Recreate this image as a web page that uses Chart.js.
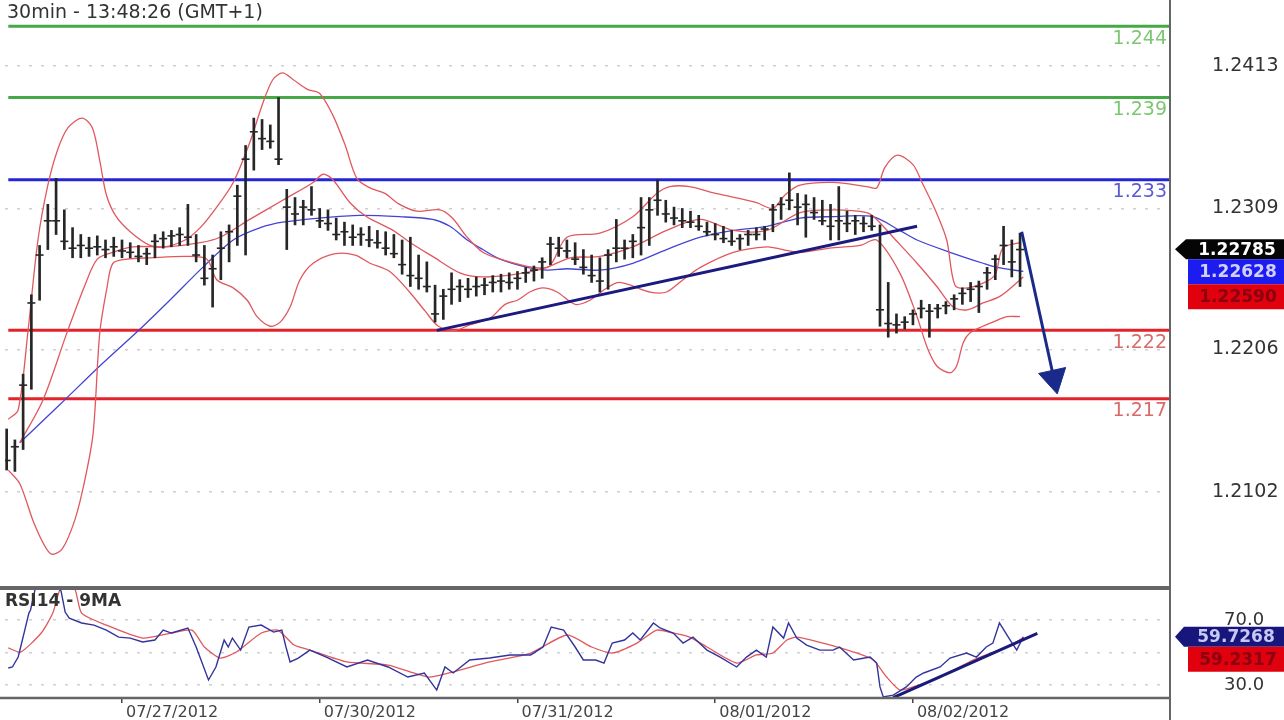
<!DOCTYPE html>
<html><head><meta charset="utf-8">
<script src="https://cdn.jsdelivr.net/npm/chart.js@4.4.1/dist/chart.umd.min.js"></script>
<style>
html,body{margin:0;padding:0;background:#fff;width:1284px;height:720px;overflow:hidden;}
#wrap{position:relative;width:1284px;height:720px;background:#fff;}
canvas{position:absolute;left:0;}
#main{top:0}
#rsi{top:588px}
.lbl{position:absolute;font-family:"DejaVu Sans",sans-serif;color:#333;white-space:nowrap;}
</style></head><body>
<div id="wrap">
<canvas id="main" width="1284" height="588"></canvas>
<canvas id="rsi" width="1284" height="132"></canvas>
<div class="lbl" style="left:7px;top:0px;font-size:19px;line-height:22px;">30min - 13:48:26 (GMT+1)</div>
<div class="lbl" style="left:5px;top:590px;font-size:17px;line-height:20px;font-weight:bold;">RSI14 - 9MA</div>
</div>
<script>
// ---------- data (hour index along x) ----------
const priceHigh = [1.2148,1.2140,1.2188,1.2246,1.2282,1.2312,1.2331,1.2308,1.2295,1.2290,
1.2288,1.2289,1.2286,1.2288,1.2286,1.2284,1.2282,1.2280,1.2290,1.2292,
1.2293,1.2295,1.2312,1.2290,1.2282,1.2275,1.2292,1.2297,1.2326,1.2355,
1.2375,1.2374,1.2370,1.2390,1.2323,1.2317,1.2315,1.2325,1.2309,1.2308,
1.2302,1.2299,1.2297,1.2295,1.2296,1.2293,1.2292,1.2290,1.2286,1.2288,
1.2275,1.2270,1.2253,1.2250,1.2262,1.2257,1.2258,1.2259,1.2258,1.2260,
1.2261,1.2262,1.2263,1.2266,1.2267,1.2273,1.2288,1.2288,1.2286,1.2284,
1.2279,1.2275,1.2273,1.2279,1.2301,1.2286,1.2290,1.2317,1.2317,1.2330,
1.2315,1.2310,1.2309,1.2307,1.2304,1.2299,1.2298,1.2296,1.2293,1.2290,
1.2293,1.2295,1.2296,1.2312,1.2317,1.2335,1.2320,1.2319,1.2317,1.2315,
1.2312,1.2325,1.2307,1.2304,1.2303,1.2304,1.2297,1.2255,1.2232,1.2230,
1.2235,1.2242,1.2239,1.2239,1.2241,1.2246,1.2251,1.2255,1.2256,1.2266,
1.2275,1.2296,1.2286,1.2291];
const priceLow = [1.2118,1.2117,1.2133,1.2177,1.2242,1.2279,1.2290,1.2279,1.2273,1.2273,
1.2274,1.2275,1.2273,1.2274,1.2273,1.2273,1.2270,1.2268,1.2273,1.2280,
1.2281,1.2282,1.2282,1.2270,1.2253,1.2237,1.2257,1.2270,1.2282,1.2275,
1.2337,1.2352,1.2353,1.2341,1.2279,1.2297,1.2297,1.2304,1.2295,1.2293,
1.2286,1.2282,1.2282,1.2282,1.2281,1.2280,1.2275,1.2273,1.2261,1.2252,
1.2250,1.2248,1.2226,1.2228,1.2239,1.2241,1.2244,1.2245,1.2246,1.2248,
1.2248,1.2250,1.2250,1.2255,1.2256,1.2258,1.2268,1.2274,1.2273,1.2268,
1.2261,1.2255,1.2248,1.2250,1.2270,1.2272,1.2273,1.2275,1.2282,1.2304,
1.2299,1.2297,1.2295,1.2295,1.2293,1.2289,1.2286,1.2284,1.2282,1.2279,
1.2282,1.2286,1.2286,1.2292,1.2301,1.2308,1.2297,1.2288,1.2301,1.2297,
1.2286,1.2286,1.2292,1.2290,1.2292,1.2293,1.2223,1.2215,1.2218,1.2221,
1.2224,1.2229,1.2215,1.2229,1.2232,1.2235,1.2239,1.2241,1.2233,1.2250,
1.2257,1.2268,1.2259,1.2252];
const priceClose = [1.2125,1.2135,1.2180,1.2240,1.2275,1.2300,1.2300,1.2285,1.2280,1.2282,
1.2280,1.2281,1.2279,1.2281,1.2278,1.2277,1.2274,1.2276,1.2285,1.2287,
1.2289,1.2290,1.2288,1.2275,1.2258,1.2265,1.2280,1.2292,1.2318,1.2345,
1.2365,1.2360,1.2358,1.2345,1.2310,1.2305,1.2310,1.2308,1.2300,1.2298,
1.2290,1.2292,1.2288,1.2290,1.2286,1.2284,1.2280,1.2276,1.2268,1.2260,
1.2258,1.2252,1.2232,1.2245,1.2250,1.2252,1.2250,1.2252,1.2253,1.2255,
1.2256,1.2255,1.2258,1.2262,1.2264,1.2270,1.2283,1.2280,1.2278,1.2272,
1.2266,1.2260,1.2256,1.2275,1.2280,1.2280,1.2285,1.2295,1.2308,1.2315,
1.2305,1.2302,1.2300,1.2299,1.2296,1.2292,1.2290,1.2287,1.2285,1.2287,
1.2290,1.2290,1.2294,1.2308,1.2312,1.2315,1.2310,1.2312,1.2306,1.2300,
1.2296,1.2300,1.2298,1.2300,1.2298,1.2296,1.2235,1.2225,1.2224,1.2226,
1.2232,1.2236,1.2234,1.2236,1.2238,1.2243,1.2247,1.2250,1.2252,1.2262,
1.2272,1.2282,1.2270,1.2279];

const upperBand = [[0.2,1.2155],[1.4,1.2162],[2.6,1.2220],[3.8,1.2286],[5.0,1.2326],[6.2,1.2352],[7.45,1.2368],[9.15,1.2375],[10.4,1.2368],[11.3,1.2344],[12.1,1.2319],[13.2,1.2304],[15.0,1.2292],[17.4,1.2282],[19.2,1.2281],[21.65,1.2286],[23.5,1.2295],[25.5,1.2310],[27.5,1.2328],[29.5,1.2357],[31.1,1.2386],[32.3,1.2403],[33.5,1.2408],[34.8,1.2403],[36.5,1.2396],[38.0,1.2393],[39.6,1.2377],[41.1,1.2355],[42.5,1.2331],[44.1,1.2324],[45.9,1.2320],[47.7,1.2312],[49.8,1.2307],[52.6,1.2308],[54.1,1.2302],[55.9,1.2288],[57.8,1.2277],[59.9,1.2272],[63.9,1.2266],[65.9,1.2267],[68.0,1.2288],[72.0,1.2291],[76.0,1.2303],[78.9,1.2320],[80.5,1.2325],[82.9,1.2325],[85.4,1.2321],[88.4,1.2317],[91.1,1.2313],[93.0,1.2309],[94.5,1.2319],[96.3,1.2326],[100.3,1.2328],[104.4,1.2325],[105.6,1.2324],[106.6,1.2339],[108.1,1.2348],[110.0,1.2341],[111.1,1.2328],[112.7,1.2308],[114.1,1.2286],[115.1,1.2253],[116.6,1.2251],[118.7,1.2255],[120.0,1.2261],[120.9,1.2280],[123.0,1.2284]];
const middleBand = [[1.6,1.2138],[4.4,1.2169],[7.3,1.2218],[9.5,1.2253],[11.0,1.2272],[12.9,1.2277],[15.3,1.2281],[19.5,1.2281],[23.5,1.2284],[25.9,1.2288],[29.5,1.2301],[33.5,1.2315],[37.2,1.2328],[38.4,1.2334],[39.6,1.2330],[41.7,1.2313],[43.7,1.2303],[46.9,1.2293],[49.0,1.2284],[51.7,1.2274],[55.0,1.2262],[57.8,1.2259],[61.9,1.2261],[65.6,1.2266],[68.4,1.2273],[72.0,1.2274],[76.0,1.2281],[80.1,1.2293],[84.2,1.2301],[88.2,1.2293],[92.3,1.2293],[96.3,1.2306],[100.3,1.2308],[104.4,1.2306],[105.6,1.2301],[107.6,1.2288],[110.5,1.2269],[112.9,1.2252],[114.9,1.2237],[116.6,1.2235],[118.5,1.2240],[120.6,1.2245],[123.4,1.2259]];
const lowerBand = [[0.2,1.2118],[1.6,1.2108],[3.4,1.2078],[5.3,1.2057],[6.7,1.2060],[8.3,1.2082],[9.5,1.2111],[10.5,1.2145],[11.3,1.2218],[12.2,1.2252],[12.9,1.2269],[14.6,1.2272],[17.4,1.2273],[21.9,1.2274],[24.3,1.2272],[25.5,1.2257],[27.5,1.2251],[29.2,1.2242],[30.4,1.2230],[32.0,1.2223],[33.2,1.2226],[34.4,1.2237],[35.6,1.2257],[37.2,1.2269],[39.9,1.2276],[42.3,1.2275],[44.1,1.2269],[46.5,1.2263],[48.9,1.2248],[50.8,1.2234],[52.4,1.2223],[54.4,1.2220],[56.2,1.2224],[58.7,1.2229],[60.5,1.2239],[62.0,1.2242],[63.5,1.2248],[65.1,1.2251],[66.8,1.2248],[69.0,1.2239],[70.8,1.2242],[72.6,1.2250],[74.4,1.2255],[78.1,1.2248],[80.1,1.2248],[82.1,1.2257],[84.2,1.2266],[88.2,1.2277],[92.3,1.2281],[94.2,1.2279],[96.3,1.2277],[99.9,1.2280],[103.6,1.2282],[105.6,1.2286],[108.4,1.2262],[110.5,1.2230],[111.7,1.2208],[112.9,1.2194],[114.5,1.2189],[115.3,1.2194],[116.1,1.2211],[116.9,1.2218],[118.5,1.2223],[119.7,1.2226],[121.4,1.2230],[123.0,1.2230]];
const maLine = [[1.6,1.2138],[6.5,1.2166],[11.3,1.2194],[16.2,1.2221],[19.8,1.2242],[23.8,1.2266],[27.5,1.2286],[30.8,1.2295],[33.5,1.2299],[38.0,1.2302],[42.9,1.2304],[47.7,1.2303],[51.7,1.2301],[53.8,1.2296],[55.9,1.2286],[57.8,1.2279],[59.9,1.2272],[63.2,1.2266],[65.6,1.2264],[68.0,1.2265],[72.0,1.2264],[76.0,1.2269],[80.1,1.2279],[84.2,1.2288],[88.2,1.2293],[92.3,1.2296],[96.3,1.2302],[100.3,1.2303],[105.1,1.2303],[108.4,1.2293],[110.5,1.2286],[114.5,1.2277],[118.5,1.2269],[120.2,1.2266],[123.4,1.2263]];

const levels = [1.2442, 1.239, 1.233, 1.222, 1.217];
const levelLabels = ['1.244', '1.239', '1.233', '1.222', '1.217'];
const trendLine = [[52.2,1.2220],[110.5,1.2296]];
const arrowLine = [[123.2,1.2292],[127.1,1.2185]];
const priceTicks = [1.2102, 1.2206, 1.2309, 1.2413];
const lastValues = [1.22785, 1.22628, 1.22590];
const lastLabels = ['1.22785', '1.22628', '1.22590'];

const rsiLine = [[0.2,40.5],[0.7,41.1],[1.4,47.2],[1.7,53.4],[2.2,63.8],[2.7,74.3],[2.9,76.2],[3.5,90],[5.0,94],[6.6,88],[7.1,74.9],[7.6,71.2],[9.1,68.2],[10.6,66.9],[12.1,63.8],[13.6,59.5],[15.0,58.9],[16.5,56.5],[18.0,57.7],[19.0,63.8],[20.0,62.0],[22.0,65.1],[23.0,53.4],[24.5,33.1],[25.4,41.1],[26.4,57.7],[26.9,53.4],[27.4,58.9],[28.4,51.5],[29.4,65.7],[30.9,66.9],[32.4,62.6],[33.4,63.8],[33.9,53.4],[34.4,44.2],[35.4,46.6],[36.8,51.5],[38.8,47.2],[41.3,41.1],[43.8,45.4],[46.3,41.1],[48.7,34.9],[50.7,37.4],[52.2,26.9],[53.2,41.1],[54.2,37.4],[56.2,45.4],[58.6,46.6],[61.1,48.5],[63.6,48.5],[65.1,53.4],[66.1,65.7],[67.6,63.8],[69.0,53.4],[70.0,45.4],[71.5,45.4],[72.5,43.5],[73.5,55.8],[75.0,57.7],[76.0,62.0],[76.9,57.7],[78.5,68.2],[79.3,65.1],[80.9,62.0],[82.1,55.8],[83.3,59.5],[85.0,51.5],[86.6,47.2],[88.6,41.1],[89.8,47.2],[91.0,51.5],[92.2,47.2],[93.0,65.7],[94.3,58.9],[94.9,68.2],[95.9,58.9],[97.1,54.6],[98.7,51.5],[100.3,51.5],[101.1,53.4],[102.8,45.4],[104.8,47.2],[105.6,43.5],[106.0,28.8],[106.4,22.6],[107.6,23.8],[109.2,28.8],[110.4,34.9],[111.3,37.4],[113.3,41.1],[114.5,46.6],[116.5,49.7],[117.7,47.2],[118.9,53.4],[119.7,55.8],[120.5,68.2],[121.8,57.7],[122.6,51.5],[123.4,59.7]];
const rsiMA = [[0.2,52.8],[1.7,50.3],[4.2,62.0],[5.6,74.3],[6.6,90],[8.2,90],[9.1,74.3],[12.1,66.9],[16.5,58.9],[20.0,62.0],[22.5,63.8],[24.0,53.4],[25.9,46.6],[27.9,50.3],[30.9,62.0],[32.9,63.8],[34.9,54.6],[36.8,51.5],[41.3,44.2],[46.3,42.3],[51.2,34.9],[53.7,37.4],[58.6,44.2],[63.6,49.7],[68.0,60.8],[71.0,53.4],[73.5,49.7],[76.5,55.8],[78.9,63.8],[80.9,62.0],[82.9,59.5],[85.0,53.4],[88.6,43.5],[91.0,48.5],[93.0,49.7],[94.7,57.7],[95.9,59.5],[99.1,55.8],[102.8,50.3],[105.2,45.4],[106.8,34.9],[108.4,26.9],[110.0,28.8],[113.3,34.9],[117.3,45.4],[121.4,53.4],[123.4,59.2]];
const rsiTrend = [[107.6,22.2],[125.1,61.8]];
const rsiTicks = [30, 50, 70];
const rsiLast = [59.7268, 59.2317];
const rsiLastLabels = ['59.7268', '59.2317'];
const dateTicks = [14, 38, 62, 86, 110];
const dateLabels = ['07/27/2012', '07/30/2012', '07/31/2012', '08/01/2012', '08/02/2012'];

// ---------- styling ----------
const X_MIN = -0.2, X_MAX = 141.2;
const FONT = '"DejaVu Sans", sans-serif';
const levelColors = ['#46a846', '#46a846', '#2424d8', '#e3232c', '#e3232c'];
const levelTextColors = ['#7cc772', '#7cc772', '#5a5ad6', '#d86a6a', '#d86a6a'];
const toXY = pairs => pairs.map(p => ({x: p[0], y: p[1]}));
function lineDs(pairs, color, width, order, extra) {
  return Object.assign({type: 'line', data: toXY(pairs), borderColor: color, backgroundColor: color,
    borderWidth: width, pointRadius: 0, tension: 0.3, fill: false, order: order}, extra || {});
}
function tag(ctx, tip, left, right, cy, h, fill, text, textColor) {
  ctx.save();
  ctx.beginPath();
  if (tip !== null) { ctx.moveTo(tip, cy); ctx.lineTo(left, cy - h / 2); } else { ctx.moveTo(left, cy - h / 2); }
  ctx.lineTo(right, cy - h / 2); ctx.lineTo(right, cy + h / 2); ctx.lineTo(left, cy + h / 2);
  ctx.closePath(); ctx.fillStyle = fill; ctx.fill();
  ctx.fillStyle = textColor; ctx.font = 'bold 17px ' + FONT;
  ctx.textAlign = 'center'; ctx.textBaseline = 'middle';
  ctx.fillText(text, (left + right) / 2 + 2, cy + 1);
  ctx.restore();
}

const mainDecor = {
  id: 'mainDecor',
  afterDatasetsDraw(chart) {
    const {ctx, chartArea: ca, scales: {y}} = chart;
    ctx.save();
    ctx.font = '19px ' + FONT; ctx.textAlign = 'right'; ctx.textBaseline = 'top';
    levels.forEach((lv, k) => {
      ctx.fillStyle = levelTextColors[k];
      ctx.fillText(levelLabels[k], ca.right - 3, y.getPixelForValue(lv) + 3);
    });
    ctx.strokeStyle = '#666'; ctx.lineWidth = 2;
    ctx.beginPath(); ctx.moveTo(ca.right, 0); ctx.lineTo(ca.right, chart.height); ctx.stroke();
    ctx.beginPath(); ctx.moveTo(0, chart.height - 1); ctx.lineTo(ca.right, chart.height - 1); ctx.stroke();
    ctx.restore();
    const cy = y.getPixelForValue(lastValues[0]) - 1;
    tag(ctx, 1175, 1186, 1284, cy, 20, '#050505', lastLabels[0], '#ffffff');
    tag(ctx, null, 1188, 1284, cy + 22.5, 25, '#1c1cf0', lastLabels[1], '#d0d0ff');
    tag(ctx, null, 1188, 1284, cy + 47.5, 25, '#e0000e', lastLabels[2], '#8a0010');
  }
};

const bars = priceHigh.map((h, i) => ({x: i, y: [priceLow[i], h]}));
const closes = priceClose.map((c, i) => ({x: i, y: c}));
const mainDatasets = [
  {type: 'bar', data: bars, backgroundColor: '#262626', borderWidth: 0, barThickness: 2, order: 4},
  {type: 'line', data: closes, showLine: false, pointStyle: 'line', pointRadius: 4, pointBorderWidth: 1.6,
    pointBorderColor: '#262626', borderColor: '#262626', order: 4},
  lineDs(upperBand, '#e0585e', 1.3, 5),
  lineDs(middleBand, '#e0585e', 1.3, 5),
  lineDs(lowerBand, '#e0585e', 1.3, 5),
  lineDs(maLine, '#4444d4', 1.3, 5),
  lineDs(trendLine, '#1a1a80', 3, 1, {tension: 0}),
  lineDs(arrowLine, '#1a2a8a', 3, 0, {tension: 0, pointRadius: [0, 16], pointStyle: 'triangle',
    rotation: 167.6, pointBackgroundColor: '#1a2a8a', pointBorderColor: '#1a2a8a', pointBorderWidth: 1}),
];
levels.forEach((lv, k) => {
  mainDatasets.push(lineDs([[0.2, lv], [X_MAX, lv]], levelColors[k], 3, 10, {tension: 0}));
});

new Chart(document.getElementById('main'), {
  type: 'bar',
  data: {datasets: mainDatasets},
  plugins: [mainDecor],
  options: {
    responsive: false, animation: false, devicePixelRatio: 1,
    layout: {autoPadding: false, padding: {left: 5, top: 1, bottom: 1, right: 0}},
    plugins: {legend: {display: false}, tooltip: {enabled: false}},
    scales: {
      x: {type: 'linear', min: X_MIN, max: X_MAX, offset: false, display: false},
      y: {position: 'right', min: 1.20326, max: 1.24605,
        afterBuildTicks: s => { s.ticks = priceTicks.map(v => ({value: v})); },
        afterFit: s => { s.width = 114; },
        ticks: {callback: v => v.toFixed(4), padding: 0, color: '#333', font: {family: FONT, size: 19, lineHeight: 0.05}},
        grid: {color: '#cfcfcf', lineWidth: 1.5, drawTicks: true, tickLength: 42, tickColor: 'rgba(0,0,0,0)'},
        border: {display: false, dash: [3, 9]}}
    }
  }
});

const rsiDecor = {
  id: 'rsiDecor',
  afterDatasetsDraw(chart) {
    const {ctx, chartArea: ca, scales: {y}} = chart;
    ctx.save();
    ctx.strokeStyle = '#666'; ctx.lineWidth = 2;
    ctx.beginPath(); ctx.moveTo(ca.right, 0); ctx.lineTo(ca.right, chart.height); ctx.stroke();
    ctx.beginPath(); ctx.moveTo(0, 1); ctx.lineTo(ca.right, 1); ctx.stroke();
    ctx.lineWidth = 2.5;
    ctx.beginPath(); ctx.moveTo(0, ca.bottom); ctx.lineTo(ca.right, ca.bottom); ctx.stroke();
    ctx.restore();
    const cy = y.getPixelForValue(rsiLast[0]);
    tag(ctx, 1175, 1184, 1284, cy, 20, '#16167c', rsiLastLabels[0], '#c8c8f4');
    tag(ctx, null, 1188, 1284, cy + 22.5, 25, '#e0000e', rsiLastLabels[1], '#8a0010');
  }
};

new Chart(document.getElementById('rsi'), {
  type: 'line',
  data: {datasets: [
    lineDs(rsiMA, '#e0585e', 1.3, 3, {tension: 0.2}),
    lineDs(rsiLine, '#33339e', 1.4, 2, {tension: 0}),
    lineDs(rsiTrend, '#1a1a7a', 3, 1, {tension: 0})
  ]},
  plugins: [rsiDecor],
  options: {
    responsive: false, animation: false, devicePixelRatio: 1,
    layout: {autoPadding: false, padding: {left: 5, top: 2, bottom: 0, right: 0}},
    plugins: {legend: {display: false}, tooltip: {enabled: false}},
    scales: {
      x: {type: 'linear', min: X_MIN, max: X_MAX, offset: false,
        afterBuildTicks: s => { s.ticks = dateTicks.map(v => ({value: v})); },
        afterFit: s => { s.height = 22; },
        ticks: {callback: (v, i) => dateLabels[i], align: 'start', labelOffset: 4, padding: 0,
          autoSkip: false, maxRotation: 0, color: '#444', font: {family: FONT, size: 16}},
        grid: {drawOnChartArea: false, tickLength: 5, color: '#444', lineWidth: 1.5},
        border: {display: false}},
      y: {position: 'right', min: 22, max: 88.5,
        afterBuildTicks: s => { s.ticks = rsiTicks.map(v => ({value: v})); },
        afterFit: s => { s.width = 114; },
        ticks: {callback: v => (v === 50 ? '' : v.toFixed(1)), padding: 0, color: '#333', font: {family: FONT, size: 18, lineHeight: 0.05}},
        grid: {color: '#cfcfcf', lineWidth: 1.5, drawTicks: true, tickLength: 54, tickColor: 'rgba(0,0,0,0)'},
        border: {display: false, dash: [3, 9]}}
    }
  }
});
</script>
</body></html>
